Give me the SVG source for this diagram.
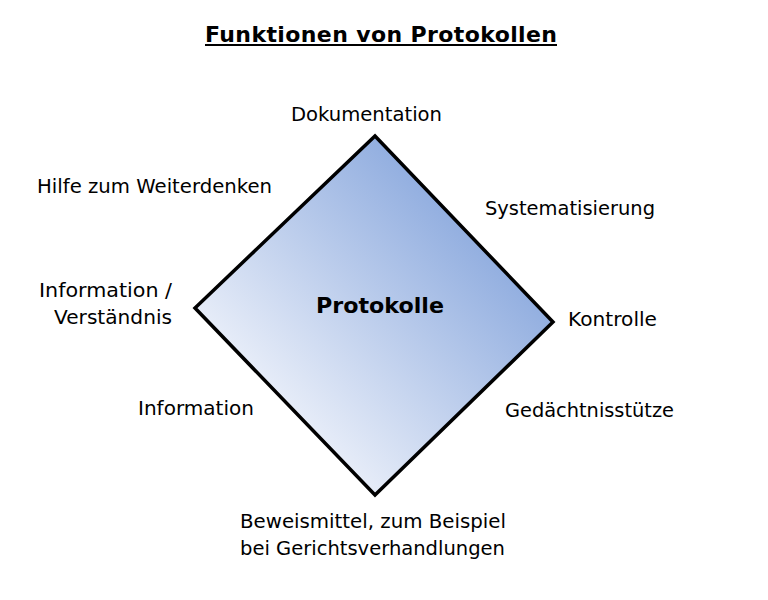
<svg xmlns="http://www.w3.org/2000/svg" width="768" height="600" viewBox="0 0 768 600">
  <style>
    .lbl { font-family: "DejaVu Sans", Verdana, sans-serif; font-size: 19.5px; fill: #000; }
    .title { font-family: "DejaVu Sans", Verdana, sans-serif; font-size: 22px; font-weight: bold; fill: #000; }
    .center { font-family: "DejaVu Sans", Verdana, sans-serif; font-size: 22px; font-weight: bold; fill: #000; }
  </style>
  <defs>
    <linearGradient id="fillGrad" gradientUnits="userSpaceOnUse" x1="285" y1="402" x2="464" y2="229">
      <stop offset="0" stop-color="#e6ecf8"/>
      <stop offset="1" stop-color="#93afe0"/>
    </linearGradient>
  </defs>
  <rect width="768" height="600" fill="#ffffff"/>

  <g id="title">
    <text class="title" x="205" y="42" textLength="352" lengthAdjust="spacing">Funktionen von Protokollen</text>
    <rect x="205" y="44" width="352" height="2" fill="#000"/>
  </g>

  <g id="node-protokolle">
    <polygon points="375,136 553,322 375,495 195,308" fill="url(#fillGrad)" stroke="#000" stroke-width="3.5" stroke-linejoin="miter"/>
    <text class="center" x="316" y="313" textLength="128" lengthAdjust="spacingAndGlyphs">Protokolle</text>
  </g>

  <g id="connectors"></g>

  <g id="label-dokumentation">
    <text class="lbl" x="291" y="121" textLength="151" lengthAdjust="spacingAndGlyphs">Dokumentation</text>
  </g>
  <g id="label-hilfe">
    <text class="lbl" x="37" y="193" textLength="235" lengthAdjust="spacingAndGlyphs">Hilfe zum Weiterdenken</text>
  </g>
  <g id="label-systematisierung">
    <text class="lbl" x="485" y="215" textLength="170" lengthAdjust="spacingAndGlyphs">Systematisierung</text>
  </g>
  <g id="label-information-verstaendnis">
    <text class="lbl" x="39" y="297" textLength="133" lengthAdjust="spacingAndGlyphs">Information /</text>
    <text class="lbl" x="54" y="324" textLength="118" lengthAdjust="spacingAndGlyphs">Verständnis</text>
  </g>
  <g id="label-kontrolle">
    <text class="lbl" x="568" y="326" textLength="89" lengthAdjust="spacingAndGlyphs">Kontrolle</text>
  </g>
  <g id="label-information">
    <text class="lbl" x="138" y="415" textLength="116" lengthAdjust="spacingAndGlyphs">Information</text>
  </g>
  <g id="label-gedaechtnisstuetze">
    <text class="lbl" x="505" y="417" textLength="169" lengthAdjust="spacingAndGlyphs">Gedächtnisstütze</text>
  </g>
  <g id="label-beweismittel">
    <text class="lbl" x="240" y="528" textLength="266" lengthAdjust="spacingAndGlyphs">Beweismittel, zum Beispiel</text>
    <text class="lbl" x="240" y="555" textLength="265" lengthAdjust="spacingAndGlyphs">bei Gerichtsverhandlungen</text>
  </g>
</svg>
